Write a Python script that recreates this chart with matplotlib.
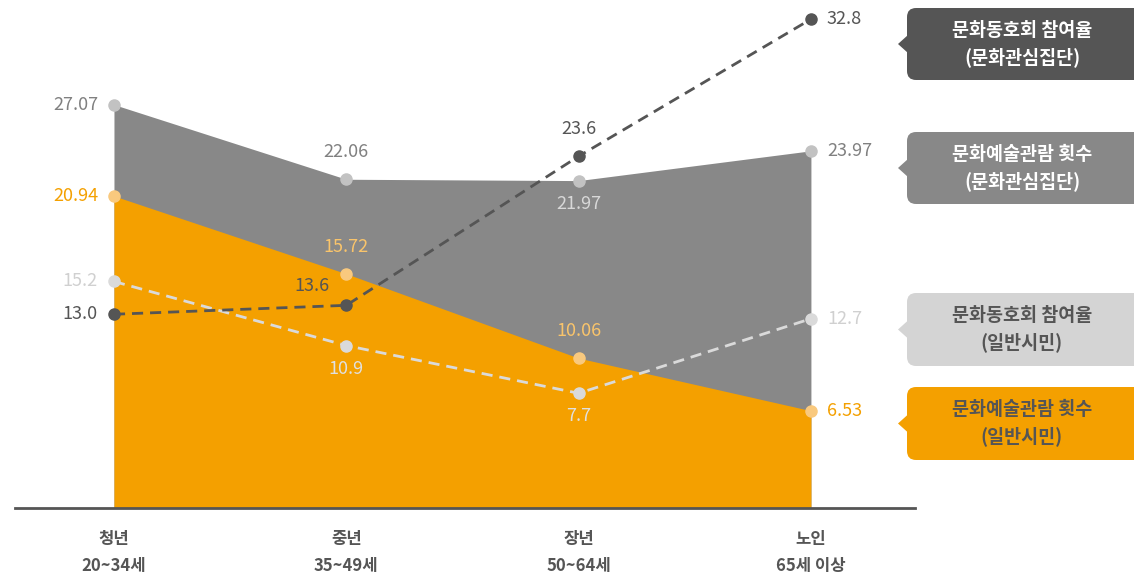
import matplotlib.pyplot as plt
from matplotlib.patches import FancyBboxPatch, Polygon

plt.rcParams['font.family'] = ['Noto Sans CJK KR', 'DejaVu Sans']

# data
groups = ['청년\n20~34세', '중년\n35~49세', '장년\n50~64세', '노인\n65세 이상']
view_interest = [27.07, 22.06, 21.97, 23.97]    # 문화예술관람 횟수 (문화관심집단)
view_citizen = [20.94, 15.72, 10.06, 6.53]      # 문화예술관람 횟수 (일반시민)
club_interest = [13.0, 13.6, 23.6, 32.8]        # 문화동호회 참여율 (문화관심집단)
club_citizen = [15.2, 10.9, 7.7, 12.7]          # 문화동호회 참여율 (일반시민)

legend_texts = ['문화동호회 참여율\n(문화관심집단)', '문화예술관람 횟수\n(문화관심집단)',
                '문화동호회 참여율\n(일반시민)', '문화예술관람 횟수\n(일반시민)']

ORANGE = '#f4a000'
DARK = '#555555'
MID = '#888888'
LIGHT = '#d4d4d4'

fig = plt.figure(figsize=(11.34, 5.81), dpi=100)
ax = fig.add_axes([15 / 1134, 73 / 581, 900 / 1134, 497 / 581])
x = list(range(len(groups)))

ax.fill_between(x, 0, view_interest, color=MID, lw=0, zorder=1)
ax.fill_between(x, 0, view_citizen, color=ORANGE, lw=0, zorder=2)
ax.plot(x, view_interest, 'o', color='#c2c2c2', ms=8, zorder=5)
ax.plot(x, view_citizen, 'o', color='#f9c97e', ms=8, zorder=5)
ax.plot(x, club_citizen, '--o', color='#dadada', lw=2, ms=8, dashes=(4, 2.5), zorder=4)
ax.plot(x, club_interest, '--o', color=DARK, lw=2, ms=8, dashes=(4, 2.5), zorder=4)

def lab(xi, yi, text, color, pos):
    off = {'left': (-16, 0, 'right', 'center'),
           'right': (16, 0, 'left', 'center'),
           'above': (0, 18, 'center', 'bottom'),
           'below': (0, -14, 'center', 'top'),
           'aboveleft': (-34, 10, 'center', 'bottom')}[pos]
    ax.annotate(text, (xi, yi), xytext=off[:2], textcoords='offset pixels',
                ha=off[2], va=off[3], color=color, fontsize=13, zorder=6)

pos_vi = ['left', 'above', 'below', 'right']
pos_vc = ['left', 'above', 'above', 'right']
pos_ci = ['left', 'aboveleft', 'above', 'right']
pos_cc = ['left', 'below', 'below', 'right']
col_vi = ['#808080', '#808080', '#d8d8d8', '#808080']
col_vc = [ORANGE, '#f9c46b', '#f9c46b', ORANGE]
col_cc = ['#d0d0d0', '#e0e0e0', '#e0e0e0', '#d0d0d0']
for i in x:
    lab(i, view_interest[i], f'{view_interest[i]:.2f}', col_vi[i], pos_vi[i])
    lab(i, view_citizen[i], f'{view_citizen[i]:.2f}', col_vc[i], pos_vc[i])
    lab(i, club_interest[i], f'{club_interest[i]:.1f}', DARK, pos_ci[i])
    lab(i, club_citizen[i], f'{club_citizen[i]:.1f}', col_cc[i], pos_cc[i])

ax.set_xlim(-0.426, 3.448)
ax.set_ylim(0, 33.35)
ax.set_yticks([])
ax.set_xticks(x)
ax.set_xticklabels(groups, fontsize=12, fontweight='bold', color=DARK, linespacing=1.6)
ax.tick_params(axis='x', length=0, pad=16)
for s in ['top', 'left', 'right']:
    ax.spines[s].set_visible(False)
ax.spines['bottom'].set_color(DARK)
ax.spines['bottom'].set_linewidth(2)

# legend boxes on the right
boxes = [(8, 80, DARK, 'white'), (132, 204, MID, 'white'),
         (293, 366, LIGHT, DARK), (387, 460, ORANGE, DARK)]
W, H = 1134, 581
for (top, bot, fc, tc), txt in zip(boxes, legend_texts):
    x0, x1 = 907, 1150
    fig.patches.append(FancyBboxPatch((x0 / W, 1 - bot / H), (x1 - x0) / W, (bot - top) / H,
                                      boxstyle='round,pad=0,rounding_size=0.008',
                                      transform=fig.transFigure, fc=fc, ec='none',
                                      mutation_aspect=W / H))
    yc = (top + bot) / 2
    fig.patches.append(Polygon([(898 / W, 1 - yc / H), (908 / W, 1 - (yc - 9) / H),
                                (908 / W, 1 - (yc + 9) / H)], closed=True,
                               transform=fig.transFigure, fc=fc, ec='none'))
    fig.text(1022 / W, 1 - yc / H, txt, ha='center', va='center', color=tc,
             fontsize=13.3, fontweight='bold', linespacing=1.45)

fig.savefig('out.png', dpi=100)
